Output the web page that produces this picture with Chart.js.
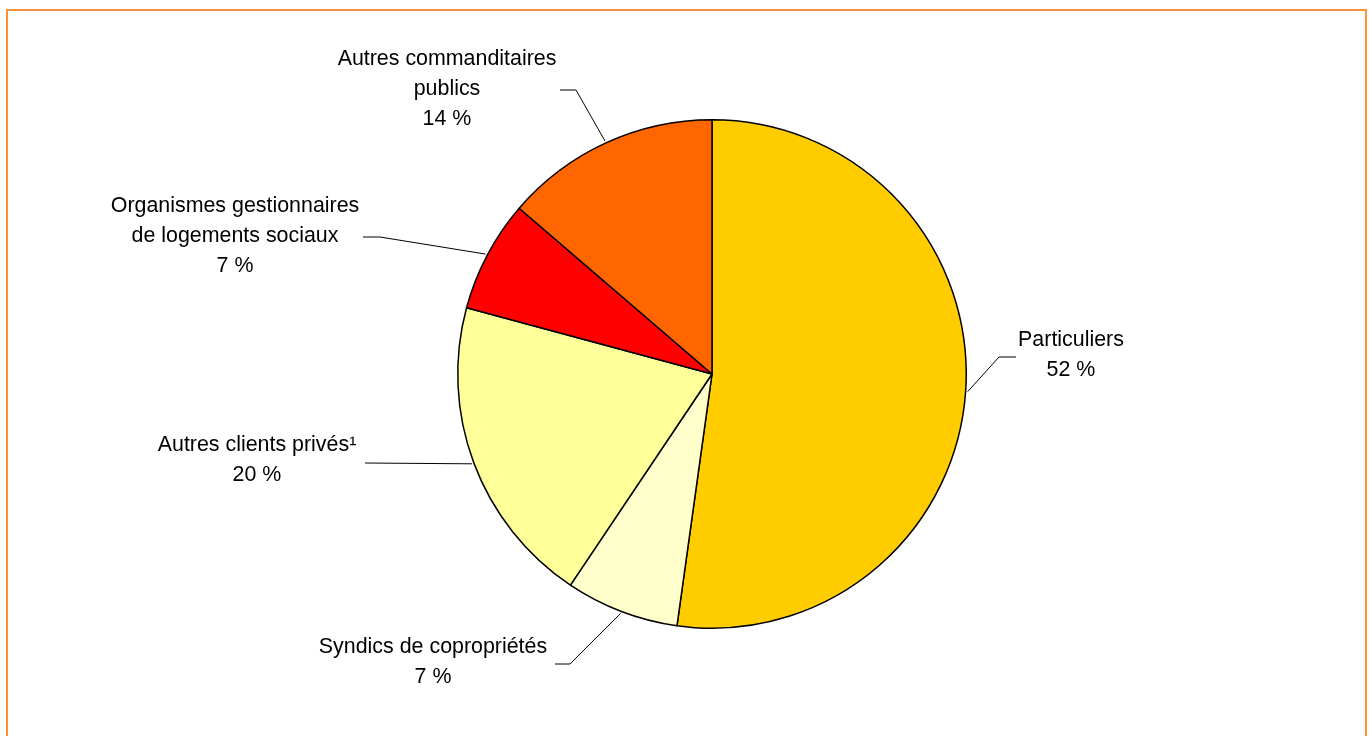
<!DOCTYPE html>
<html>
<head>
<meta charset="utf-8">
<script src="https://cdn.jsdelivr.net/npm/chart.js@4/dist/chart.umd.min.js"></script>
<style>
  html, body { margin: 0; padding: 0; background: #ffffff; overflow: hidden; }
  #wrap { position: relative; width: 1369px; height: 736px; }
  #frame { position: absolute; left: 6px; top: 9px; width: 1361px; height: 740px;
           border: 2px solid #F7923A; box-sizing: border-box; pointer-events: none; }
  canvas { position: absolute; left: 0; top: 0; }
</style>
</head>
<body>
<div id="wrap">
  <canvas id="c" width="1369" height="736"></canvas>
  <div id="frame"></div>
</div>
<script>
// ---- Data ----
const categories = [
  'Particuliers',
  'Syndics de copropriétés',
  'Autres clients privés¹',
  'Organismes gestionnaires de logements sociaux',
  'Autres commanditaires publics'
];
const values = [52.2, 7.2, 19.8, 7.1, 13.7];
const labelLines = [
  ['Particuliers'],
  ['Syndics de copropriétés'],
  ['Autres clients privés¹'],
  ['Organismes gestionnaires', 'de logements sociaux'],
  ['Autres commanditaires', 'publics']
];

// ---- Style ----
const colors = ['#FFCC00', '#FFFFCC', '#FFFF99', '#FF0000', '#FF6600'];
const FONT = '21.4px "Liberation Sans", Arial, sans-serif';
const LINE_H = 30;
// label placement relative to pie centre (px)
const labelLayout = [
  { elbow: [287, -17],  end: [304, -17],  text: [359, -34] },
  { elbow: [-142, 290], end: [-157, 290], text: [-279, 273] },
  { elbow: [-347, 89],  end: [-347, 89],  text: [-455, 71] },
  { elbow: [-332, -137], end: [-349, -137], text: [-477, -168] },
  { elbow: [-136, -284], end: [-152, -284], text: [-265, -315] }
];

const leaderPlugin = {
  id: 'leaders',
  afterDatasetsDraw(chart) {
    const ctx = chart.ctx;
    const meta = chart.getDatasetMeta(0);
    ctx.save();
    ctx.font = FONT;
    ctx.textAlign = 'center';
    ctx.textBaseline = 'middle';
    meta.data.forEach((arc, i) => {
      const p = arc.getProps(['x', 'y', 'startAngle', 'endAngle', 'outerRadius'], true);
      const mid = (p.startAngle + p.endAngle) / 2;
      const sx = p.x + Math.cos(mid) * (p.outerRadius + 2);
      const sy = p.y + Math.sin(mid) * (p.outerRadius + 2);
      const L = labelLayout[i];
      ctx.strokeStyle = '#000000';
      ctx.lineWidth = 1;
      ctx.beginPath();
      ctx.moveTo(sx, sy);
      ctx.lineTo(p.x + L.elbow[0], p.y + L.elbow[1]);
      ctx.lineTo(p.x + L.end[0], p.y + L.end[1]);
      ctx.stroke();
      const lines = labelLines[i].concat([Math.round(values[i]) + ' %']);
      ctx.fillStyle = '#000000';
      lines.forEach((t, k) => {
        ctx.fillText(t, p.x + L.text[0], p.y + L.text[1] + k * LINE_H);
      });
    });
    ctx.restore();
  }
};

new Chart(document.getElementById('c'), {
  type: 'pie',
  data: {
    labels: categories,
    datasets: [{
      data: values,
      backgroundColor: colors,
      borderColor: '#000000',
      borderWidth: 1.5
    }]
  },
  options: {
    responsive: false,
    animation: false,
    events: [],
    layout: { padding: { top: 119, bottom: 107, left: 300, right: 245 } },
    plugins: { legend: { display: false }, tooltip: { enabled: false } }
  },
  plugins: [leaderPlugin]
});
</script>
</body>
</html>
